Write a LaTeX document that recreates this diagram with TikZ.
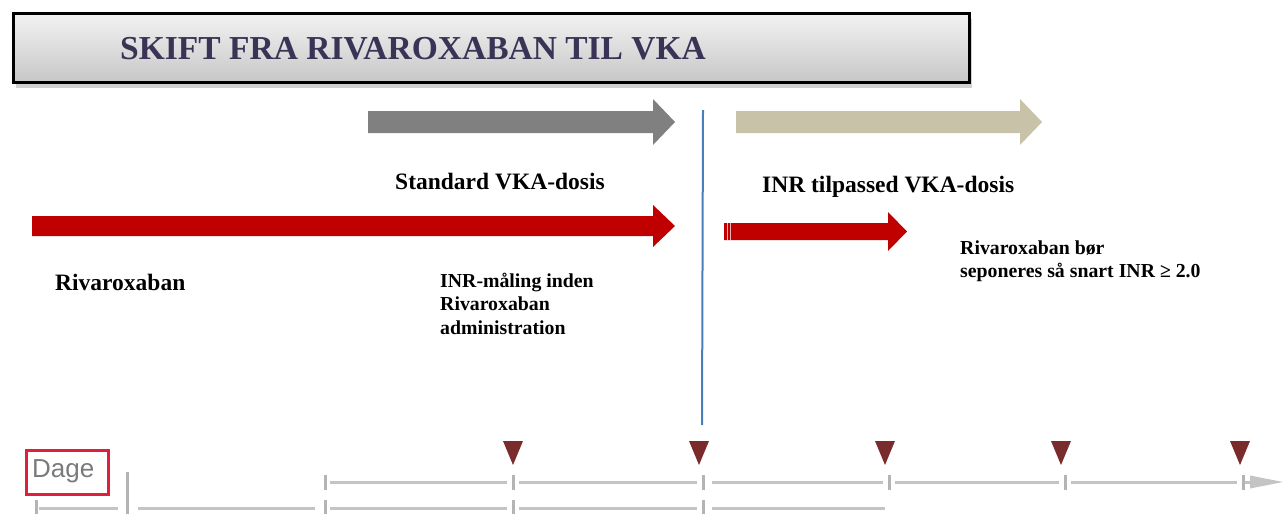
\documentclass[tikz,border=0pt]{standalone}
\usepackage{fontspec}
\setmainfont{Liberation Serif}
\newfontfamily\dagefont{Liberation Sans}
\usetikzlibrary{shadows}
\definecolor{titletext}{HTML}{3A3356}
\definecolor{arrgray}{HTML}{808080}
\definecolor{arrbeige}{HTML}{C8C2A9}
\definecolor{arrred}{HTML}{C00000}
\definecolor{blueline}{HTML}{4A7EBB}
\definecolor{tri}{HTML}{7A2B2B}
\definecolor{tline}{HTML}{C4C4C4}
\definecolor{ttick}{HTML}{B4B4B4}
\definecolor{dagegray}{HTML}{7A7A7A}
\definecolor{dagebox}{HTML}{E21F3A}
\begin{document}
\begin{tikzpicture}[x=1pt,y=-1pt,
  titlebox/.style={draw=black, line width=3pt, top color=white!95!black, bottom color=black!22,
    minimum width=956pt, minimum height=69pt, inner sep=0pt,
    drop shadow={shadow xshift=2pt, shadow yshift=-5pt, fill=black!30, opacity=0.6}},
  lbl/.style={font=\bfseries\fontsize{23.5}{28}\selectfont, inner sep=0pt, anchor=base west},
  small/.style={font=\bfseries\fontsize{19.8}{23.5}\selectfont, inner sep=0pt, anchor=base west, align=left},
  tl/.style={draw=tline, line width=3pt},
  tk/.style={draw=ttick, line width=3pt},
  trimark/.style={fill=tri},
]
\useasboundingbox (0,0) rectangle (1284,514);
% title
\node[titlebox, anchor=north west] (title) at (12,12) {};
\node[font=\bfseries\fontsize{33.5}{38}\selectfont, text=titletext, inner sep=0pt, anchor=base west] (titletxt) at (120,59.5) {SKIFT FRA RIVAROXABAN TIL VKA};
% arrows
\fill[arrgray] (368,111) -- (653,111) -- (653,99) -- (675,122) -- (653,145) -- (653,133) -- (368,133) -- cycle;
\fill[arrbeige] (736,111) -- (1020,111) -- (1020,99) -- (1042,122) -- (1020,145) -- (1020,133) -- (736,133) -- cycle;
\fill[arrred] (32,216) -- (653,216) -- (653,205) -- (675,226) -- (653,247) -- (653,236) -- (32,236) -- cycle;
\fill[arrred] (724,223) -- (888,223) -- (888,212) -- (907,231.5) -- (888,251) -- (888,240) -- (724,240) -- cycle;
\draw[white, line width=0.6pt, opacity=0.7] (727,223) -- (727,240) (730,223) -- (730,240);
% blue line
\coordinate (btop) at (703,110);
\coordinate (bbot) at (702,425);
\draw[blueline, line width=2pt] (btop) -- (bbot);
% labels
\node[lbl] (std) at (395,189) {Standard VKA-dosis};
\node[lbl] (inr) at (762,192) {INR tilpassed VKA-dosis};
\node[lbl] (riva) at (55,290) {Rivaroxaban};
\node[small] (maal) at (440,334) {INR-måling inden\\Rivaroxaban\\administration};
\node[small] (sep) at (960,277.5) {Rivaroxaban bør\\seponeres så snart INR ≥ 2.0};
% Dage
\node[font=\dagefont\fontsize{26}{30}\selectfont, text=dagegray, inner sep=0pt, anchor=base west] (dage) at (32,477) {Dage};
\draw[dagebox, line width=3pt] (26,450) rectangle (108,494);
% timeline top
\foreach \x in {325,513,703,889,1065,1243} \draw[tk] (\x,475) -- (\x,490);
\foreach \a/\b in {330/507,519/697,712/883,895/1059,1071/1237} \draw[tl] (\a,482) -- (\b,482);
\draw[tl] (1245,482) -- (1252,482);
\fill[tline] (1250,475.5) -- (1283,482) -- (1250,488.5) -- cycle;
% timeline bottom
\draw[tk] (36,500) -- (36,514);
\draw[tk] (127,472) -- (127,514);
\foreach \x in {325,513,703} \draw[tk] (\x,500) -- (\x,514);
\foreach \a/\b in {39/118,138/315,330/507,519/697,712/885} \draw[tl] (\a,508.5) -- (\b,508.5);
% triangles
\foreach \x in {513,699,885,1061,1240} \fill[trimark] (\x-10,441) -- (\x+10,441) -- (\x,465) -- cycle;
\end{tikzpicture}
\end{document}
